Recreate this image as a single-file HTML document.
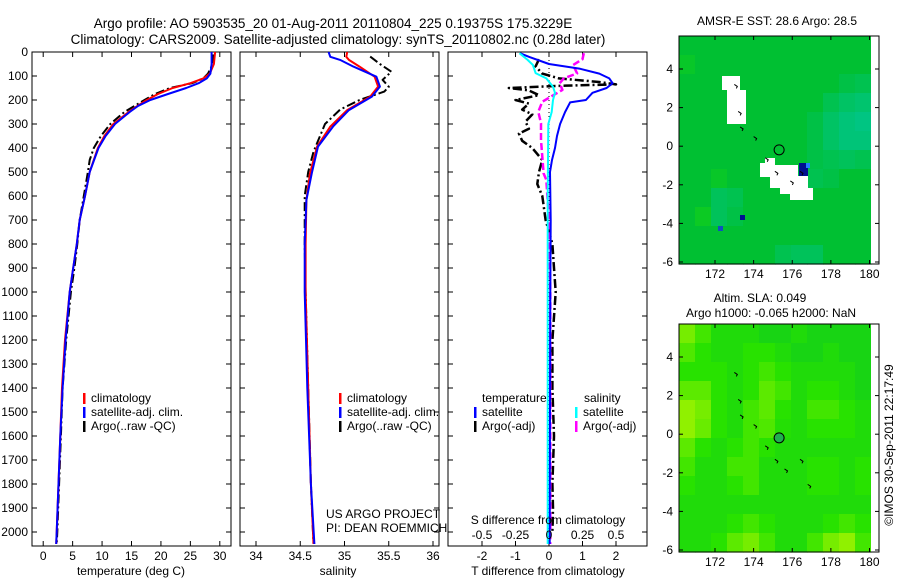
<!DOCTYPE html>
<html><head><meta charset="utf-8"><style>
html,body{margin:0;padding:0;background:#fff;}
svg{display:block;font-family:"Liberation Sans",sans-serif;}
</style></head><body>
<svg id="fig" width="900" height="580" viewBox="0 0 900 580">
<text x="333" y="28" font-size="13.5" text-anchor="middle">Argo profile: AO 5903535_20 01-Aug-2011 20110804_225 0.19375S 175.3229E</text>
<text x="338" y="44" font-size="13.5" text-anchor="middle">Climatology: CARS2009. Satellite-adjusted climatology: synTS_20110802.nc (0.28d later)</text>
<g id="g"></g>
</svg>
<script>
// ---------- data ----------
const depthTicks=[0,100,200,300,400,500,600,700,800,900,1000,1100,1200,1300,1400,1500,1600,1700,1800,1900,2000];
const tempTicks=[0,5,10,15,20,25,30];
const salTicks=[34,34.5,35,35.5,36];
const tdTicks=[-2,-1,0,1,2];
const sdTicks=[-0.5,-0.25,0,0.25,0.5];

const tDepth=[0,50,90,110,130,150,175,200,225,250,300,350,400,500,600,700,800,900,1000,1200,1400,1600,1800,2000,2050];
const tClim=[29.2,29.0,28.3,27.2,25.0,22.0,19.5,17.6,16.0,14.5,11.9,10.4,9.3,7.9,7.1,6.2,5.7,5.1,4.5,3.7,3.2,2.9,2.6,2.3,2.2];
const tSat=[28.6,28.6,28.4,27.8,26.4,24.3,21.2,18.2,16.1,14.7,12.2,10.6,9.4,7.9,7.1,6.2,5.7,5.1,4.5,3.8,3.3,2.9,2.6,2.3,2.2];
const tArgoDepth=[10,50,90,110,130,150,175,200,225,250,300,350,400,450,500,600,700,800,900,1000,1200,1400,1600,1800,2000,2050];
const tArgo=[28.9,28.8,28.0,27.2,25.3,21.5,19.0,17.2,15.5,13.8,11.4,9.8,8.6,7.9,7.6,6.9,6.2,5.8,5.3,4.7,3.9,3.3,3.0,2.7,2.4,2.3];

const sDepth=[0,20,33,61,103,144,186,242,311,394,505,617,800,1000,1400,1800,2050];
const sClim=[35.03,35.02,35.05,35.17,35.34,35.38,35.29,35.03,34.84,34.69,34.61,34.57,34.56,34.56,34.59,34.62,34.65];
const sSat=[34.82,34.84,34.95,35.10,35.36,35.40,35.31,35.05,34.87,34.70,34.63,34.57,34.55,34.55,34.58,34.62,34.66];
const sArgoDepth=[19,50,82,116,145,165,200,240,300,416,500,600,800,1000,1400,1800,2050];
const sArgo=[35.29,35.40,35.53,35.43,35.50,35.45,35.17,34.95,34.78,34.65,34.59,34.55,34.55,34.56,34.59,34.62,34.65];

const dDepth=[5,20,50,70,90,110,130,150,170,200,210,250,300,350,400,450,500,700,1000,1500,2050];
const tdSat=[-0.87,-0.6,0,0.93,1.5,1.8,1.9,1.72,1.3,1.1,0.63,0.48,0.33,0.24,0.18,0.09,0.03,0.05,0.04,0.03,0.02];
const sdSatDepth=[5,33,54,88,110,145,170,200,250,300,600,1000,1500,2050];
const sdSat=[-0.22,-0.16,-0.12,-0.1,-0.02,0.03,0.045,0.03,0.02,-0.005,-0.01,-0.01,-0.01,-0.01];
const sdArgoDepth=[5,30,54,89,110,130,158,207,249,297,367,506,533,700,1000,1500,2050];
const sdArgo=[0.26,0.25,0.18,0.21,0.11,0.08,0.10,-0.05,-0.08,-0.06,-0.06,-0.04,-0.02,0,0.01,0.01,0.01];
const tdArgoDepth=[30,60,90,110,125,135,140,150,160,180,200,215,240,260,290,320,340,370,400,450,500,550,600,700,800,900,1000,1200,1400,1600,1800,1900,2000];
const tdArgo=[-0.3,-0.4,-0.2,0.3,1.5,2.0,0.5,-1.2,-0.6,-0.3,-1.0,-0.6,-0.8,-0.5,-0.7,-0.6,-0.9,-0.8,-0.5,-0.2,-0.3,-0.35,-0.2,-0.1,0.1,0.15,0.2,0.1,0.1,0.15,0.1,0.12,0.1];

const lonTicks=[172,174,176,178,180];
const latTicks=[4,2,0,-2,-4,-6];
const sstGrid=[
[4,4,4,4,4,4,4,4,4,4,4,4],
[4.2,4,4,4,4,4,4,4,4,4,4,4],
[4,4,4,4,4,4,4,4,4,4,3.8,3.7],
[4,4,4,4,4,4,4,4,4,3.7,3.5,3.4],
[4,4,4,4,4,4,4,4,3.8,3.5,3.3,3.2],
[4,4,4,4,4,4,4,4,3.8,3.5,3.3,3.3],
[4,4,4,4,4,4,4,4,3.8,3.7,3.6,3.7],
[4,4,4.2,4,4,4,3.8,3.8,3.7,3.8,4,4],
[4,4,3.6,3.7,4,4,4,4,4,4,4,4],
[4,4.3,3.6,3.8,4,4,4,4,4,4,4,4],
[4,4,4,4,4,4,4,4,4,4,4,4],
[4,4,4,4,4,4,3.7,3.6,3.6,4,4,4]];
const slaGrid=[
[5.6,5.2,4.8,4.8,4.8,4.6,4.6,4.8,4.6,4.6,4.6,4.6],
[5.3,5.0,4.8,4.8,5.0,5.0,4.8,4.6,4.6,4.8,4.6,4.6],
[5.0,5.0,5.0,4.8,5.0,5.2,5.0,4.8,4.8,4.8,4.8,4.6],
[5.4,5.4,5.0,4.8,5.0,5.4,5.2,4.8,5.0,5.0,4.8,4.6],
[5.8,5.6,5.0,4.8,5.2,5.4,5.0,4.8,5.2,5.2,5.0,4.8],
[5.8,5.5,5.0,4.8,5.2,5.3,4.9,4.8,5.0,5.0,5.0,4.8],
[5.4,5.0,4.8,5.0,5.2,5.0,4.8,4.8,4.8,4.8,4.8,4.8],
[5.2,4.8,4.8,5.2,5.2,4.8,4.8,4.8,5.0,5.0,4.8,5.0],
[5.0,4.8,4.8,5.0,5.2,4.8,4.8,4.8,5.0,5.0,4.8,5.0],
[4.8,4.8,4.8,4.8,4.8,4.8,4.8,4.8,4.8,4.8,4.8,4.8],
[4.8,4.8,4.8,5.0,5.2,5.0,4.8,4.8,4.8,5.0,5.2,5.0],
[4.8,4.8,5.0,5.4,5.6,5.2,4.8,4.8,5.2,5.6,5.8,5.2]];
const floatLon=175.32, floatLat=-0.19;

// ---------- helpers ----------
const NS="http://www.w3.org/2000/svg";
const G=document.getElementById('g');
function mk(tag,attrs,parent){const e=document.createElementNS(NS,tag);for(const k in attrs)e.setAttribute(k,attrs[k]);(parent||G).appendChild(e);return e;}
function txt(x,y,s,size,anchor,parent){const t=mk('text',{x:x,y:y,'font-size':size||12,'text-anchor':anchor||'middle'},parent);t.textContent=s;return t;}
const TOP=52,BOT=546;
const yD=d=>TOP+d*0.24;
function lin(d0,d1,r0,r1){return v=>r0+(v-d0)*(r1-r0)/(d1-d0);}
const xT=lin(0,30,43.2,219.8);
const xS=lin(34,36,256,433);
const xTd=lin(0,1,549,582.5);
const xSd=lin(0,1,549,683);

function panel(name,x0,x1,ticks,xf,labels){
  const g=mk('g',{});
  
  
  mk('rect',{x:x0,y:TOP,width:x1-x0,height:BOT-TOP,fill:'#fff',stroke:'#000','stroke-width':1},g);
  depthTicks.forEach(d=>{const y=yD(d);mk('line',{x1:x0,x2:x0+5,y1:y,y2:y,stroke:'#000'},g);mk('line',{x1:x1-5,x2:x1,y1:y,y2:y,stroke:'#000'},g);});
  ticks.forEach((v,i)=>{const x=xf(v);mk('line',{x1:x,x2:x,y1:TOP,y2:TOP+5,stroke:'#000'},g);mk('line',{x1:x,x2:x,y1:BOT-5,y2:BOT,stroke:'#000'},g);
    if(labels){const t=txt(x,560,labels[i],12,'middle',g);}});
  return g;
}
function line(g,xs,ds,xf,color,w,dash,name){
  const pts=xs.map((v,i)=>xf(v).toFixed(1)+','+yD(ds[i]).toFixed(1)).join(' ');
  const p=mk('polyline',{points:pts,fill:'none',stroke:color,'stroke-width':w,'stroke-linejoin':'round'},g);
  if(dash)p.setAttribute('stroke-dasharray',dash);
  
  
  return p;
}
function legend(g,x,y,items){
  items.forEach((it,i)=>{const yy=y+i*14;mk('rect',{x:x,y:yy-9,width:2.5,height:11,fill:it[1]},g);
    const t=txt(x+8,yy,it[0],12,'start',g);});
}
const DASH='9,3,2,3';

depthTicks.forEach(d=>{const t=txt(28,yD(d)+4,String(d),12,'end');});

const p1=panel('temperature-panel',32,231,tempTicks,xT,tempTicks.map(String));
line(p1,tArgo,tArgoDepth,xT,'#000',2,DASH,'argo-temperature-line');
line(p1,tClim,tDepth,xT,'#f00',2,null,'climatology-temperature-line');
line(p1,tSat,tDepth,xT,'#00f',2,null,'satellite-temperature-line');
legend(p1,83,402,[['climatology','#f00'],['satellite-adj. clim.','#00f'],['Argo(..raw -QC)','#000']]);
let t=txt(131,575,'temperature (deg C)',12);

const p2=panel('salinity-panel',240,439,salTicks,xS,['34','34.5','35','35.5','36']);
line(p2,sArgo,sArgoDepth,xS,'#000',2,DASH,'argo-salinity-line');
line(p2,sClim,sDepth,xS,'#f00',2,null,'climatology-salinity-line');
line(p2,sSat,sDepth,xS,'#00f',2,null,'satellite-salinity-line');
legend(p2,339,402,[['climatology','#f00'],['satellite-adj. clim.','#00f'],['Argo(..raw -QC)','#000']]);
t=txt(326,518,'US ARGO PROJECT',12,'start',p2);
t=txt(326,532,'PI: DEAN ROEMMICH',12,'start',p2);
t=txt(338,575,'salinity',12);

const p3=panel('difference-panel',448,647,tdTicks,xTd,['-2','-1','0','1','2']);
mk('line',{x1:xTd(0),x2:xTd(0),y1:TOP,y2:BOT,stroke:'#000','stroke-dasharray':'1,3'},p3);
line(p3,tdArgo,tdArgoDepth,xTd,'#000',2.5,DASH,'argo-t-diff-line');
line(p3,sdArgo,sdArgoDepth,xSd,'#f0f',2.5,'7,3','argo-s-diff-line');
line(p3,tdSat,dDepth,xTd,'#00f',2,null,'satellite-t-diff-line');
line(p3,sdSat,sdSatDepth,xSd,'#0ff',2,null,'satellite-s-diff-line');
t=txt(482,402,'temperature',12,'start',p3);
t=txt(584,402,'salinity',12,'start',p3);
legend(p3,474,416,[['satellite','#00f'],['Argo(-adj)','#000']]);
legend(p3,575,416,[['satellite','#0ff'],['Argo(-adj)','#f0f']]);
t=txt(548,524,'S difference from climatology',12,'middle',p3);
sdTicks.forEach(v=>{const tt=txt(xSd(v),539,String(v),12,'middle',p3);});
t=txt(548,575,'T difference from climatology',12);

// ---------- maps ----------
const anchors=[[0,0,130],[0,100,255],[0,210,220],[0,198,150],[0,192,50],[40,226,0],[170,245,0]];
function cmap(v){const i=Math.max(0,Math.min(5,Math.floor(v)));const f=Math.max(0,Math.min(1,v-i));const a=anchors[i],b=anchors[i+1];
  return 'rgb('+a.map((c,k)=>Math.round(c+(b[k]-c)*f)).join(',')+')';}
function map(name,top,grid){
  const x0=679,x1=879,bottom=top+228;
  const xL=lin(172,180,715,869.5), yL=lin(4,-6,top+33,top+226);
  const g=mk('g',{});
  
  
  const rows=grid.length,cols=grid[0].length;
  const cw=(871-x0)/cols, ch=(bottom-top)/rows;
  grid.forEach((row,r)=>row.forEach((v,c)=>{
    const cell=mk('rect',{x:(x0+c*cw).toFixed(2),y:(top+r*ch).toFixed(2),width:(cw+0.6).toFixed(2),height:(ch+0.6).toFixed(2),fill:cmap(v)},g);
    
    
  }));
  mk('rect',{x:871,y:top,width:8,height:bottom-top,fill:'#fff'},g);
  mk('rect',{x:x0,y:top,width:x1-x0,height:bottom-top,fill:'none',stroke:'#000'},g);
  lonTicks.forEach(v=>{const x=xL(v);mk('line',{x1:x,x2:x,y1:top,y2:top+4,stroke:'#000'},g);mk('line',{x1:x,x2:x,y1:bottom-4,y2:bottom,stroke:'#000'},g);
    const tt=txt(x,bottom+14,String(v),12,'middle',g);});
  latTicks.forEach(v=>{const y=yL(v);mk('line',{x1:x0,x2:x0+4,y1:y,y2:y,stroke:'#000'},g);mk('line',{x1:x1-4,x2:x1,y1:y,y2:y,stroke:'#000'},g);
    const tt=txt(673,y+4,String(v),12,'end',g);});
  return {g,xL,yL};
}
const m1=map('sst-map',36,sstGrid);
const w1=mk('polygon',{points:'722,76 740,76 740,90 746,90 746,124 727,124 727,90 722,90',fill:'#fff'},m1.g);

const w2=mk('polygon',{points:'760,163 765,163 765,158 775,158 775,165 798,165 798,176 808,176 808,188 813,188 813,200 790,200 790,194 780,194 780,188 770,188 770,177 760,177',fill:'#fff'},m1.g);

mk('rect',{x:799,y:163,width:9,height:13,fill:'#001090'},m1.g);
mk('rect',{x:806,y:163,width:4,height:5,fill:'#2080ff'},m1.g);
mk('rect',{x:718,y:226,width:5,height:5,fill:'#1050c0'},m1.g);
mk('rect',{x:740,y:215,width:5,height:5,fill:'#001090'},m1.g);
const c1=mk('circle',{cx:m1.xL(floatLon),cy:m1.yL(floatLat),r:5,fill:'none',stroke:'#000'},m1.g);

t=txt(777,25,'AMSR-E SST: 28.6 Argo: 28.5',12);

const m2=map('sla-map',324,slaGrid);
const c2=mk('circle',{cx:m2.xL(floatLon),cy:m2.yL(floatLat),r:5,fill:'#20b050',stroke:'#000'},m2.g);

t=txt(760,302,'Altim. SLA: 0.049',12);
t=txt(771,317,'Argo h1000: -0.065 h2000: NaN',12);

[[m1,[[173,3.2],[173.2,1.8],[173.3,1.0],[174,0.5],[174.6,-0.6],[175.1,-1.3],[175.9,-1.8],[176.4,-1.3]]],[m2,[[173,3.2],[173.2,1.8],[173.3,1.0],[174,0.5],[174.6,-0.6],[175.1,-1.3],[175.6,-1.8],[176.4,-1.3],[176.8,-2.6]]]].forEach(([m,pts])=>{
  pts.forEach(p=>{const e=mk('path',{d:'M'+m.xL(p[0])+','+m.yL(p[1])+' l3,2 l-1,2',fill:'none',stroke:'#000','stroke-width':1},m.g);
    });
});

t=txt(0,0,'©IMOS 30-Sep-2011 22:17:49',12,'middle');
t.setAttribute('transform','translate(893,445) rotate(-90)');


</script>
</body></html>
